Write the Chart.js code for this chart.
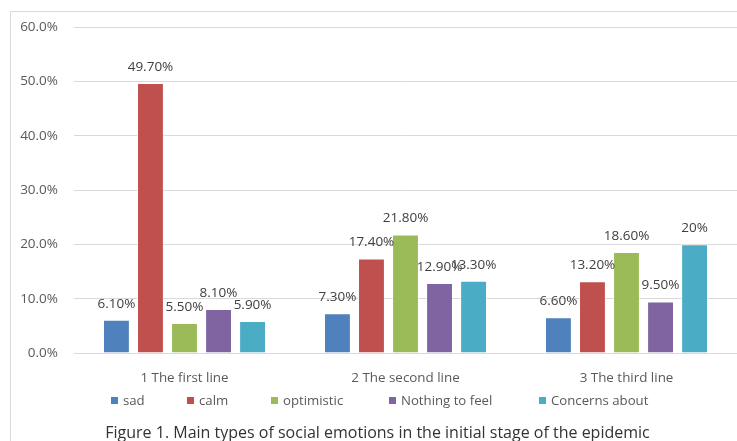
<!DOCTYPE html>
<html>
<head>
<meta charset="utf-8">
<script src="https://cdn.jsdelivr.net/npm/chart.js@4"></script>
<style>
  html, body { margin: 0; padding: 0; background: #fff; }
  #wrap { position: relative; width: 737px; height: 441px; overflow: hidden; font-family: 'Open Sans', sans-serif; }
  #frame { position: absolute; left: 10px; top: 11px; width: 800px; height: 500px; border: 1px solid #d9d9d9; box-sizing: border-box; }
  canvas { position: absolute; left: 0; top: 0; }
  .leg { position: absolute; top: 391px; font-size: 13.2px; color: #595959; line-height: 18px; white-space: nowrap; }
  .leg i { display: inline-block; width: 7px; height: 7px; margin-right: 5px; vertical-align: 1px; }
  #caption { position: absolute; left: 0; width: 755px; top: 421px; text-align: center; font-size: 16px; color: #333; line-height: 22px; white-space: nowrap; }
</style>
</head>
<body>
<div id="wrap">
  <div id="frame"></div>
  <canvas id="chart" width="737" height="441"></canvas>
  <div id="legend"></div>
  <div id="caption">Figure 1. Main types of social emotions in the initial stage of the epidemic</div>
</div>
<script>
const categories = ['1 The first line', '2 The second line', '3 The third line'];
const seriesNames = ['sad', 'calm', 'optimistic', 'Nothing to feel', 'Concerns about'];
const sad = [6.1, 7.3, 6.6];
const calm = [49.7, 17.4, 13.2];
const optimistic = [5.5, 21.8, 18.6];
const nothingToFeel = [8.1, 12.9, 9.5];
const concerns = [5.9, 13.3, 20];
const yTicks = [0, 10, 20, 30, 40, 50, 60];

const colors = ['#4f81bd', '#c0504d', '#9bbb59', '#8064a2', '#4bacc6'];
const legendX = [111, 187, 271, 389, 539];
const FONT = "'Open Sans', sans-serif";

function fmt(v) {
  return Number.isInteger(v) ? v + '%' : v.toFixed(2) + '%';
}

// value labels above each bar
const valueLabels = {
  id: 'valueLabels',
  afterDatasetsDraw(chart) {
    const ctx = chart.ctx;
    ctx.save();
    ctx.font = '13.5px ' + FONT;
    ctx.fillStyle = '#404040';
    ctx.textAlign = 'center';
    ctx.textBaseline = 'middle';
    chart.data.datasets.forEach((ds, i) => {
      chart.getDatasetMeta(i).data.forEach((bar, j) => {
        ctx.fillText(fmt(ds.data[j]), bar.x, bar.y - 16);
      });
    });
    ctx.restore();
  }
};

const allData = [sad, calm, optimistic, nothingToFeel, concerns];

new Chart(document.getElementById('chart'), {
  type: 'bar',
  data: {
    labels: categories,
    datasets: allData.map((d, i) => ({
      label: seriesNames[i],
      data: d,
      backgroundColor: colors[i],
      borderColor: 'rgba(255,255,255,0.5)',
      borderWidth: 1,
      categoryPercentage: 0.77,
      barPercentage: 0.79
    }))
  },
  options: {
    responsive: false,
    animation: false,
    layout: { padding: { left: 10, top: 27, right: 0, bottom: 52 } },
    scales: {
      y: {
        min: 0,
        max: 60,
        afterFit(scale) { scale.width = 64; },
        afterBuildTicks(scale) { scale.ticks = yTicks.map(v => ({ value: v })); },
        ticks: {
          padding: 16,
          color: '#595959',
          font: { family: FONT, size: 13.5 },
          callback: v => v.toFixed(1) + '%'
        },
        grid: { color: '#d9d9d9', drawTicks: false },
        border: { display: false }
      },
      x: {
        afterFit(scale) { scale.height = 36; },
        ticks: { color: '#595959', font: { family: FONT, size: 13.4 }, padding: 17 },
        grid: { display: false, drawTicks: false },
        border: { display: false }
      }
    },
    plugins: {
      legend: { display: false },
      title: { display: false },
      tooltip: { enabled: false }
    }
  },
  plugins: [valueLabels]
});

// legend as text under the chart
const legend = document.getElementById('legend');
seriesNames.forEach((name, i) => {
  const el = document.createElement('div');
  el.className = 'leg';
  el.style.left = legendX[i] + 'px';
  el.innerHTML = '<i style="background:' + colors[i] + '"></i>' + name;
  legend.appendChild(el);
});
</script>
</body>
</html>
